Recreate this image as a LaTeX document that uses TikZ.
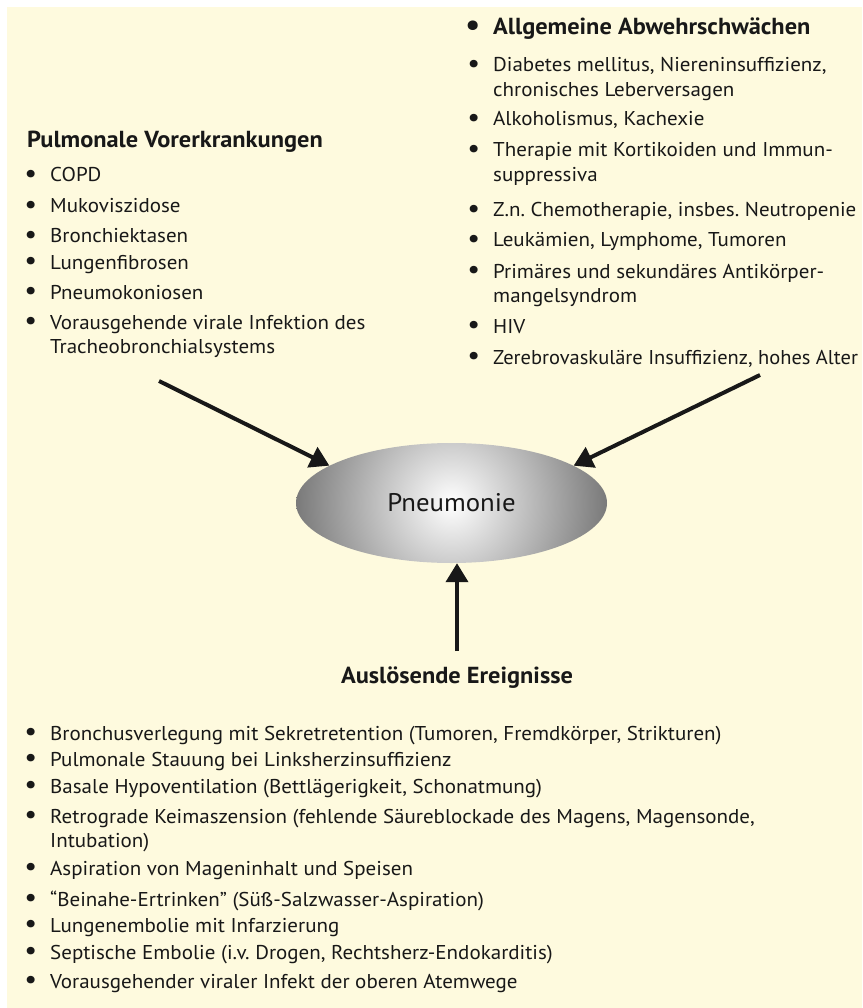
\documentclass[tikz,border=0pt]{standalone}
\usepackage{fontspec}
\setmainfont{PT Sans}[FakeStretch=1.05]
\usetikzlibrary{arrows.meta,shapes.geometric}
\definecolor{bg}{RGB}{254,250,222}
\definecolor{ink}{RGB}{24,24,24}
\definecolor{edgegray}{RGB}{118,118,118}
\newcommand{\bul}{\llap{\raisebox{-0.6pt}{\scalebox{1.35}{•}}\hspace{13pt}}}
\newcommand{\twoline}[2]{\vtop{\hbox{#1}\hbox{#2}}}
\frenchspacing
\begin{document}
\begin{tikzpicture}[x=1pt,y=-1pt,
  item/.style={anchor=base west, inner sep=0pt, text=ink, font=\fontsize{20}{24.5}\selectfont},
  headtext/.style={anchor=base west, inner sep=0pt, text=ink, font=\bfseries\fontsize{23.2}{26}\selectfont},
  arr/.style={line width=4pt, draw=ink, -{Triangle[length=19pt,width=22pt]}}]
\useasboundingbox (0,0) rectangle (862,1008);
\fill[bg] (7,7) rectangle (862,1008);

% left column
\node[headtext] (lh) at (27,148) {Pulmonale Vorerkrankungen};
\node[item] (l1) at (50,182) {\bul COPD};
\node[item] (l2) at (50,213) {\bul Mukoviszidose};
\node[item] (l3) at (50,243) {\bul Bronchiektasen};
\node[item] (l4) at (50,269) {\bul Lungenfibrosen};
\node[item] (l5) at (50,299) {\bul Pneumokoniosen};
\node[item] (l6) at (50,329) {\bul\twoline{Vorausgehende virale Infektion des}{Tracheobronchialsystems}};

% right column
\node[headtext] (rh) at (493,35) {\bul Allgemeine Abwehrschwächen};
\node[item] (r1) at (493,72) {\bul\twoline{Diabetes mellitus, Niereninsuffizienz,}{chronisches Leberversagen}};
\node[item] (r2) at (493,126) {\bul Alkoholismus, Kachexie};
\node[item] (r3) at (493,157) {\bul\twoline{Therapie mit Kortikoiden und Immun-}{suppressiva}};
\node[item] (r4) at (493,217) {\bul Z.n. Chemotherapie, insbes. Neutropenie};
\node[item] (r5) at (493,247) {\bul Leukämien, Lymphome, Tumoren};
\node[item] (r6) at (493,278) {\bul\twoline{Primäres und sekundäres Antikörper-}{mangelsyndrom}};
\node[item] (r7) at (493,333) {\bul HIV};
\node[item] (r8) at (493,364) {\bul\scalebox{0.975}[1]{Zerebrovaskuläre Insuffizienz, hohes Alter}};

% centre
\node[ellipse, minimum width=311pt, minimum height=120pt, inner sep=0pt, text=ink,
  font=\fontsize{25.5}{30}\selectfont,
  path picture={\shade[inner color=white, outer color=edgegray] (path picture bounding box.center) circle (160pt);}]
  (pn) at (451.5,503) {Pneumonie};

% bottom
\node[headtext, anchor=base] (bh) at (457,683) {Auslösende Ereignisse};
\node[item] (b1) at (50,740) {\bul Bronchusverlegung mit Sekretretention (Tumoren, Fremdkörper, Strikturen)};
\node[item] (b2) at (50,766) {\bul Pulmonale Stauung bei Linksherzinsuffizienz};
\node[item] (b3) at (50,793) {\bul Basale Hypoventilation (Bettlägerigkeit, Schonatmung)};
\node[item] (b4) at (50,823) {\bul\twoline{Retrograde Keimaszension (fehlende Säureblockade des Magens, Magensonde,}{Intubation)}};
\node[item] (b5) at (50,875) {\bul Aspiration von Mageninhalt und Speisen};
\node[item] (b6) at (50,906) {\bul “Beinahe-Ertrinken” (Süß-Salzwasser-Aspiration)};
\node[item] (b7) at (50,932) {\bul Lungenembolie mit Infarzierung};
\node[item] (b8) at (50,959) {\bul Septische Embolie (i.v. Drogen, Rechtsherz-Endokarditis)};
\node[item] (b9) at (50,988) {\bul Vorausgehender viraler Infekt der oberen Atemwege};

% arrows
\coordinate (la) at (159,381);
\coordinate (ra) at (760,375);
\coordinate (ua) at (457,651);
\draw[arr] (la) -- (pn.163);
\draw[arr] (ra) -- (pn.17);
\draw[arr] (ua) -- (ua |- pn.south);
\end{tikzpicture}
\end{document}
